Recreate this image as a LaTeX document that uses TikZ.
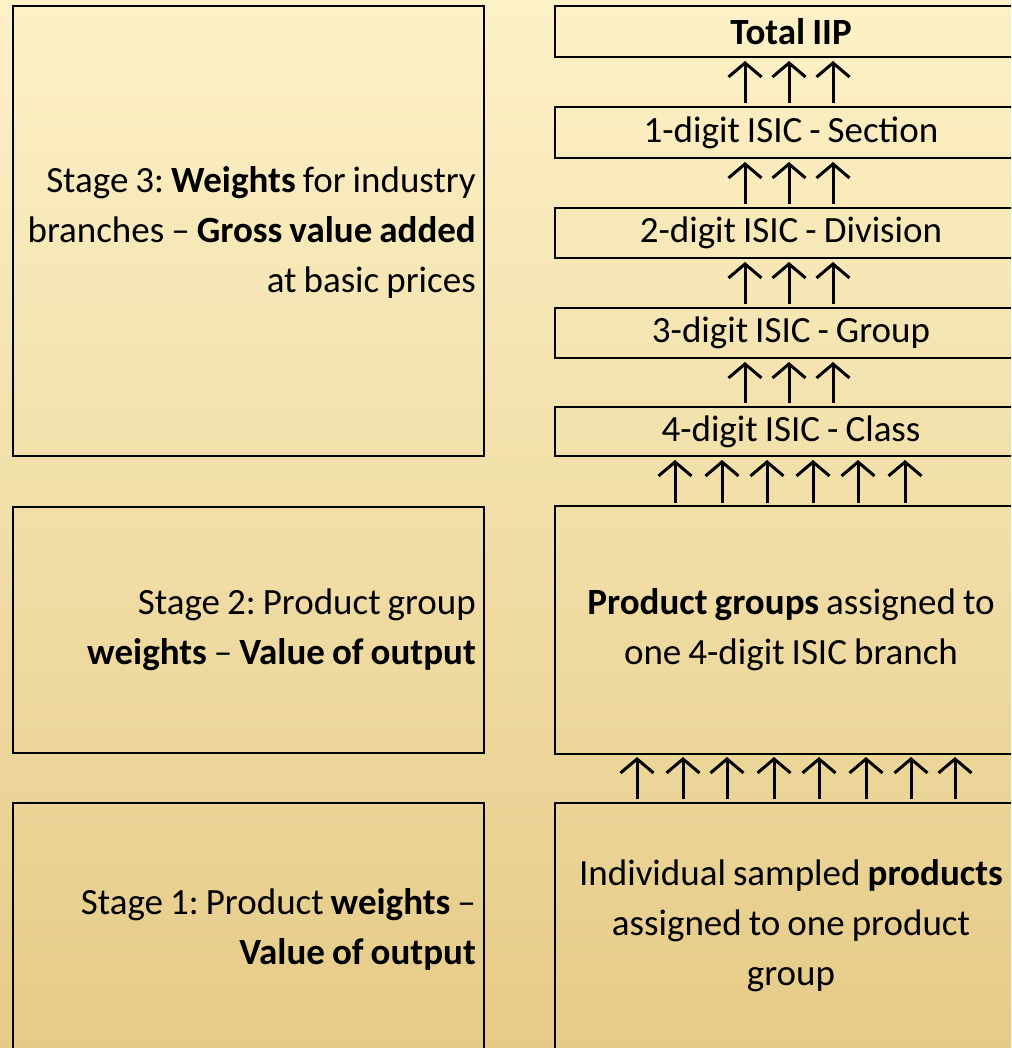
\documentclass[tikz,border=0pt]{standalone}
\usepackage{fontspec}
\setmainfont{Carlito}
\usetikzlibrary{calc,arrows.meta}
\definecolor{bgtop}{RGB}{253,241,199}
\definecolor{bgmid}{RGB}{246,228,168}
\definecolor{bgbot}{RGB}{229,203,136}
\frenchspacing
\newcommand\boxfont{\fontsize{37}{50}\selectfont\spaceskip=0.19em\relax}
\begin{document}
\begin{tikzpicture}[x=1pt,y=-1pt,
  box/.style={draw=black,line width=2pt,inner sep=0pt,outer sep=0pt},
  leftbox/.style={box,minimum width=471pt},
  rightbox/.style={box,minimum width=472pt,font=\boxfont,align=center},
  lefttext/.style={inner sep=0pt,anchor=east,font=\boxfont,align=right},
  uparrow/.style={line width=3pt,-{Straight Barb[length=14pt,width=33pt,line width=3pt]}}]
\useasboundingbox (0,0) rectangle (1011,1048);
\shade[top color=bgtop,middle color=bgmid,bottom color=bgbot] (0,0) rectangle (1011,1048);
\clip (0,0) rectangle (1011,1048);
% left column
\node[leftbox,minimum height=450pt] (st3) at (248.5,231) {};
\node[lefttext] (t3) at ($(st3.east)+(-8,1)$)
  {Stage 3: \textbf{Weights} for industry\\branches -- \textbf{Gross value added}\\at basic prices};
\node[leftbox,minimum height=246pt] (st2) at (248.5,630) {};
\node[lefttext] (t2) at ($(st2.east)+(-8,0)$)
  {Stage 2: Product group\\\textbf{weights} -- \textbf{Value of output}};
\node[leftbox,minimum height=246pt] (st1) at (248.5,926) {};
\node[lefttext] (t1) at ($(st1.east)+(-8,3)$)
  {Stage 1: Product \textbf{weights} --\\\textbf{Value of output}};
% right column
\node[rightbox,minimum height=51pt] (tot) at (791,31.5) {\textbf{Total IIP}};
\node[rightbox,minimum height=51pt] (sec) at (791,132.5) {1-digit ISIC - Section};
\node[rightbox,minimum height=50pt] (div) at (791,233) {2-digit ISIC - Division};
\node[rightbox,minimum height=50pt] (grp) at (791,333) {3-digit ISIC - Group};
\node[rightbox,minimum height=49pt] (cls) at (791,431.5) {4-digit ISIC - Class};
\node[rightbox,minimum height=248pt] (pg) at (791,630)
  {\textbf{Product groups} assigned to\\one 4-digit ISIC branch};
\node[rightbox,minimum height=246pt] (ind) at (791,926)
  {Individual sampled \textbf{products}\\assigned to one product\\group};
% arrows
\foreach \lo/\hi in {sec/tot,div/sec,grp/div,cls/grp}
  \foreach \dx in {-46,-2,42}
    \draw[uparrow] ($(\lo.north)+(\dx,-4)$) -- ($(\hi.south)+(\dx,4)$);
\foreach \dx in {-116,-69,-24,22,67,114}
  \draw[uparrow] ($(pg.north)+(\dx,-3)$) -- ($(cls.south)+(\dx,4)$);
\foreach \dx in {-154,-108,-64,-17,28,75,120,164}
  \draw[uparrow] ($(ind.north)+(\dx,-4)$) -- ($(pg.south)+(\dx,3)$);
\end{tikzpicture}
\end{document}
